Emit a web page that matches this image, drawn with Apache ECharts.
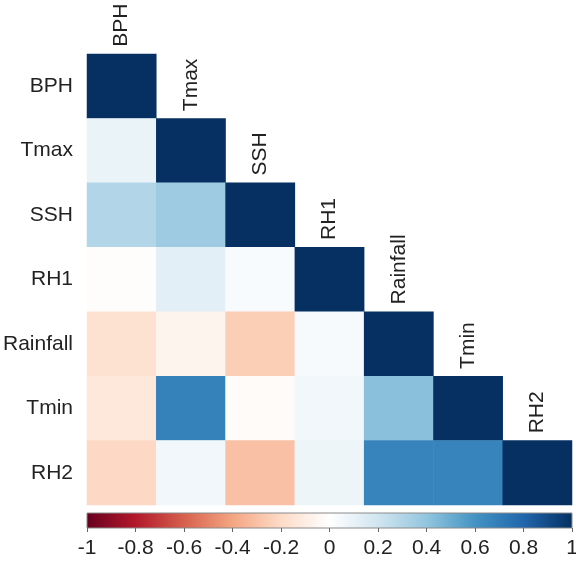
<!DOCTYPE html>
<html>
<head>
<meta charset="utf-8">
<script src="https://cdn.jsdelivr.net/npm/echarts@6/dist/echarts.min.js"></script>
<style>
html,body{margin:0;padding:0;background:#fff;}
#main{width:576px;height:568px;}
</style>
</head>
<body>
<div id="main"></div>
<script>
// variables (rows top to bottom)
var names = ['BPH', 'Tmax', 'SSH', 'RH1', 'Rainfall', 'Tmin', 'RH2'];
// lower triangle correlations, one array per row
var rowBPH = [1];
var rowTmax = [0.09, 1];
var rowSSH = [0.30, 0.36, 1];
var rowRH1 = [-0.01, 0.12, 0.03, 1];
var rowRainfall = [-0.16, -0.06, -0.25, 0.04, 1];
var rowTmin = [-0.13, 0.68, -0.02, 0.06, 0.42, 1];
var rowRH2 = [-0.21, 0.06, -0.30, 0.08, 0.67, 0.67, 1];
var rows = [rowBPH, rowTmax, rowSSH, rowRH1, rowRainfall, rowTmin, rowRH2];

// RdBu palette as used by corrplot
var rdbu = ['#67001F', '#B2182B', '#D6604D', '#F4A582', '#FDDBC7', '#FFFFFF',
            '#D1E5F0', '#92C5DE', '#4393C3', '#2166AC', '#053061'];

var font = "'Liberation Sans Narrow', 'Liberation Sans', Arial, sans-serif";
var fs = 21;

var data = [];
rows.forEach(function (r, i) {
    r.forEach(function (v, j) {
        data.push([j, i, v]);
    });
});

var myChart = echarts.init(document.getElementById('main'));
var option = {
    animation: false,
    grid: [
        { left: 87, top: 54, width: 485, height: 451, outerBoundsMode: 'none', containLabel: false },
        {
            left: 87, top: 513, width: 485, height: 15,
            outerBoundsMode: 'none', containLabel: false,
            show: true, borderColor: '#8a8a8a', borderWidth: 1,
            backgroundColor: new echarts.graphic.LinearGradient(0, 0, 1, 0,
                rdbu.map(function (c, k) { return { offset: k / (rdbu.length - 1), color: c }; }))
        }
    ],
    xAxis: [
        {
            type: 'category', data: names, gridIndex: 0,
            axisLine: { show: false }, axisTick: { show: false },
            axisLabel: { show: false }, splitLine: { show: false }
        },
        {
            type: 'value', gridIndex: 1, min: -1, max: 1, interval: 0.2,
            position: 'bottom',
            axisLine: { show: false },
            axisTick: { show: true, length: 4, lineStyle: { color: '#666' } },
            splitLine: { show: false },
            axisLabel: {
                margin: 10, fontSize: fs, color: '#222', fontFamily: font,
                formatter: function (v) { return String(Math.round(v * 10) / 10); }
            }
        }
    ],
    yAxis: [
        {
            type: 'category', data: names, inverse: true, gridIndex: 0,
            axisLine: { show: false }, axisTick: { show: false },
            splitLine: { show: false },
            axisLabel: { margin: 14, fontSize: fs, color: '#222', fontFamily: font }
        },
        {
            type: 'value', gridIndex: 1, min: 0, max: 1, show: false
        }
    ],
    visualMap: {
        show: false, min: -1, max: 1, dimension: 2, seriesIndex: 0,
        inRange: { color: rdbu }
    },
    series: [
        {
            type: 'heatmap',
            xAxisIndex: 0, yAxisIndex: 0,
            data: data,
            label: {
                show: true,
                position: 'top',
                rotate: 90,
                align: 'left',
                verticalAlign: 'middle',
                distance: 7,
                fontSize: fs,
                color: '#222',
                fontFamily: font,
                formatter: function (p) {
                    return p.value[0] === p.value[1] ? names[p.value[0]] : '';
                }
            },
            emphasis: { disabled: true }
        },
        {
            type: 'scatter', xAxisIndex: 1, yAxisIndex: 1, data: []
        }
    ]
};
myChart.setOption(option);
</script>
</body>
</html>
